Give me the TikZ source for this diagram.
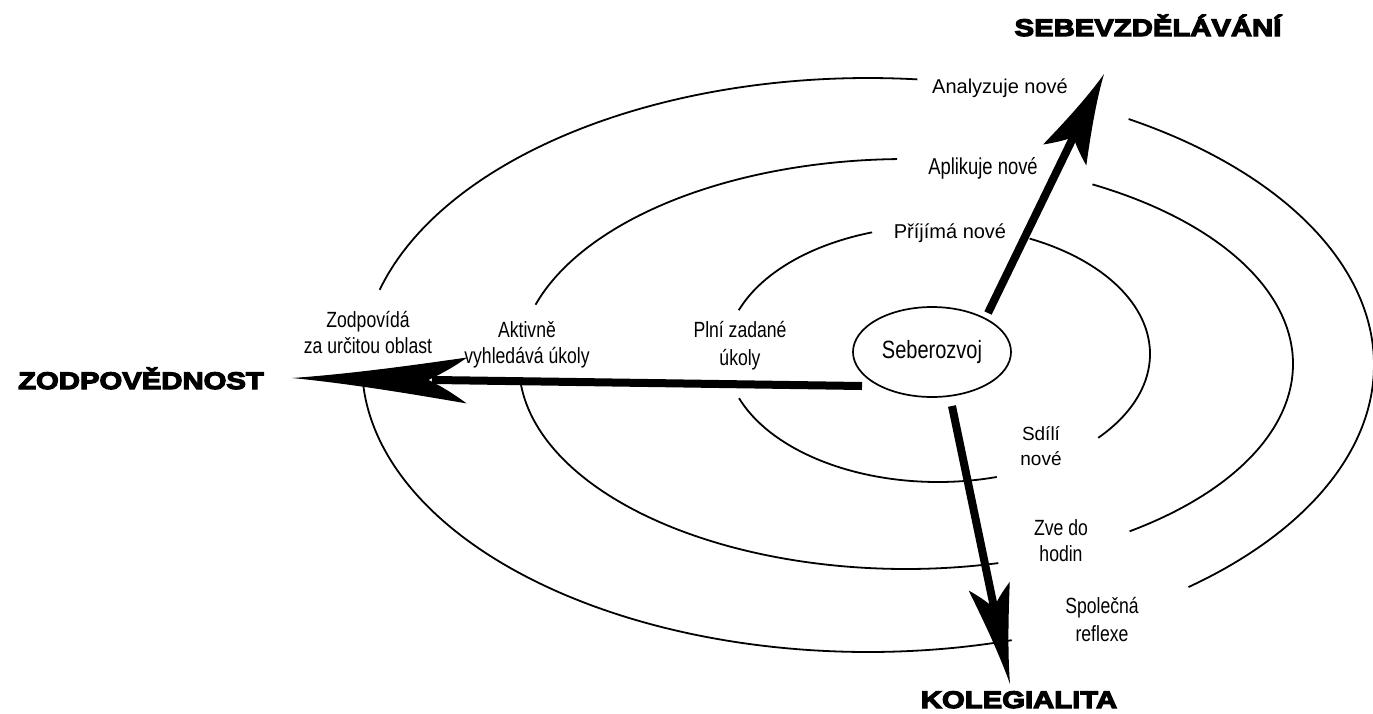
\documentclass[tikz,border=0pt]{standalone}
\usepackage{fontspec}
\setmainfont{Liberation Sans}
\newfontfamily\narrowf[FakeStretch=0.8]{Liberation Sans}
\newfontfamily\heavyf[FakeStretch=1.22,FakeBold=5]{Liberation Sans Bold}
\usetikzlibrary{shapes.geometric,calc}
\newcommand\barbhead[4]{%
  \fill[shift={(#1)},rotate=#2] (0,0)
    .. controls ({-0.35*#3},{0.22*#4}) and ({-0.75*#3},{0.7*#4}) .. ({-#3},{#4})
    .. controls ({-0.9*#3},{0.45*#4}) and ({-0.82*#3},{0.15*#4}) .. ({-0.78*#3},0)
    .. controls ({-0.82*#3},{-0.15*#4}) and ({-0.9*#3},{-0.45*#4}) .. ({-#3},{-#4})
    .. controls ({-0.75*#3},{-0.7*#4}) and ({-0.35*#3},{-0.22*#4}) .. (0,0) -- cycle;}
\begin{document}
\begin{tikzpicture}[x=1pt,y=-1pt,
  ring/.style={line width=1.8pt},
  reg/.style={font=\fontsize{20}{25}\selectfont, align=center, inner sep=0pt},
  nar/.style={font=\narrowf\fontsize{22}{26}\selectfont, align=center, inner sep=0pt},
  heading/.style={font=\heavyf\fontsize{24}{24}\selectfont, inner sep=0pt, anchor=base},
  shaft/.style={line width=8pt}]
\useasboundingbox (0,0) rectangle (1373,713);
\fill[white] (0,0) rectangle (1373,713);

% outer ring
\draw[ring] plot[domain=195.2:275.6, samples=80, smooth] ({868+506*cos(\x)},{365+287*sin(\x)});
\draw[ring] plot[domain=73.5:176.6, samples=80, smooth] ({868+506*cos(\x)},{365+287*sin(\x)});
\draw[ring] plot[domain=-59:50.7, samples=80, smooth] ({868+506*cos(\x)},{365+287*sin(\x)});
% middle ring
\draw[ring] plot[domain=196.8:268.7, samples=80, smooth] ({906+387*cos(\x)},{364+205*sin(\x)});
\draw[ring] plot[domain=76.2:174.1, samples=80, smooth] ({906+387*cos(\x)},{364+205*sin(\x)});
\draw[ring] plot[domain=-61.2:54.7, samples=80, smooth] ({906+387*cos(\x)},{364+205*sin(\x)});
% inner ring
\draw[ring] plot[domain=200:251.9, samples=60, smooth] ({938+212*cos(\x)},{354+128*sin(\x)});
\draw[ring] plot[domain=73.9:159.8, samples=60, smooth] ({938+212*cos(\x)},{354+128*sin(\x)});
\draw[ring] plot[domain=-64.4:40.9, samples=60, smooth] ({938+212*cos(\x)},{354+128*sin(\x)});

% centre
\node[ellipse, draw, line width=1.7pt, minimum width=158pt, minimum height=90pt, inner sep=0pt,
      font=\narrowf\fontsize{25}{25}\selectfont] (seb) at (932,352) {Seberozvoj};

% arrows
\coordinate (zS) at (862,386);
\coordinate (zT) at (292,378);
\coordinate (sS) at (988,313);
\coordinate (sT) at (1104,74);
\coordinate (kS) at (952,406);
\coordinate (kT) at (1010,684);
\draw[shaft] (zS) -- ($(zT)!140pt!(zS)$);
\barbhead{zT}{179.2}{175}{23}
\draw[shaft] (sS) -- ($(sT)!70pt!(sS)$);
\barbhead{sT}{64.1}{90}{24}
\draw[shaft] (kS) -- ($(kT)!75pt!(kS)$);
\barbhead{kT}{-78}{100}{21}

% labels
\node[reg] (analyz) at (1000,88) {Analyzuje nové};
\node[nar, font=\narrowf\fontsize{23}{26}\selectfont] (aplik) at (983,168) {Aplikuje nové};
\node[reg] (prij) at (950,233) {Příjímá nové};
\node[nar, font=\narrowf\fontsize{22}{28}\selectfont] (plni) at (740,346) {Plní zadané\\úkoly};
\node[nar] (aktiv) at (527,345) {Aktivně\\vyhledává úkoly};
\node[nar] (zodp) at (368,332) {Zodpovídá\\za určitou oblast};
\node[reg, font=\fontsize{19}{25}\selectfont] (sdili) at (1041,446) {Sdílí\\nové};
\node[nar] (zve) at (1061,541) {Zve do\\hodin};
\node[nar, font=\narrowf\fontsize{22}{28}\selectfont] (spol) at (1102,619) {Společná\\reflexe};

% headings
\node[heading] (hS) at (1148,36) {SEBEVZDĚLÁVÁNÍ};
\node[heading] (hZ) at (141,389) {ZODPOVĚDNOST};
\node[heading] (hK) at (1019,708) {KOLEGIALITA};
\end{tikzpicture}
\end{document}
